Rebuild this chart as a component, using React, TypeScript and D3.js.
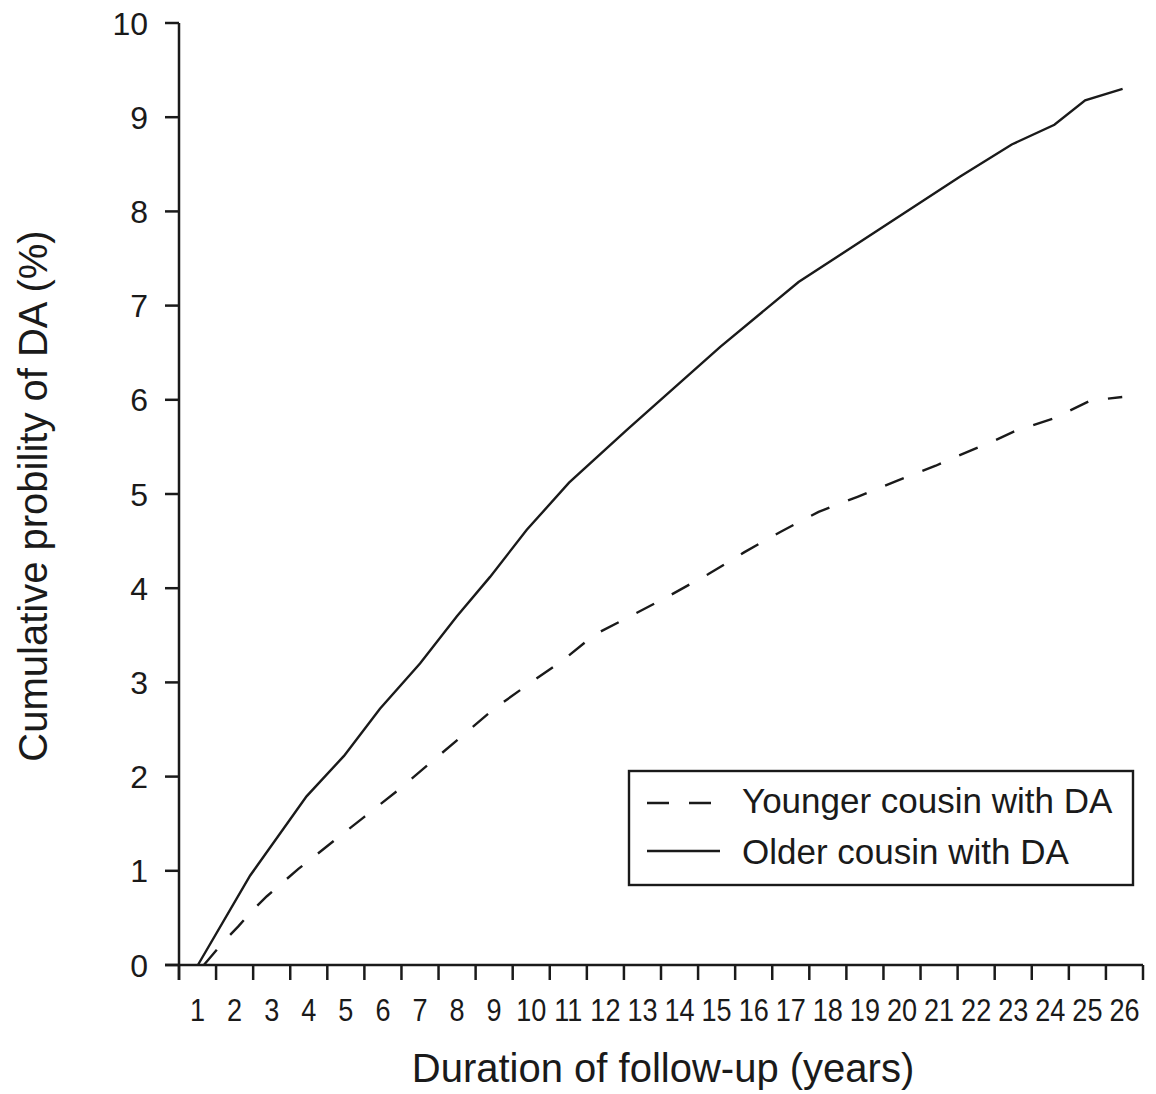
import React from "react";
import * as d3 from "d3";

const xTickLabels = d3.range(1, 27);
const yTickValues = d3.range(0, 11);

const olderYears = [1.01, 2.42, 3.94, 4.95, 5.92, 7.0, 7.99, 8.89, 9.88, 11.02, 12.58, 15.09, 17.21, 21.57, 22.96, 24.11, 24.94, 25.95];
const olderVals = [0, 0.95, 1.79, 2.22, 2.72, 3.2, 3.7, 4.12, 4.62, 5.12, 5.68, 6.56, 7.25, 8.37, 8.71, 8.92, 9.18, 9.3];

const youngerYears = [1.17, 1.71, 2.1, 2.48, 2.87, 3.72, 4.62, 5.49, 6.39, 9.0, 9.92, 10.87, 11.72, 12.76, 13.77, 14.78, 15.74, 16.73, 17.75, 18.8, 19.86, 20.91, 21.48, 22.51, 23.0, 24.08, 25.07, 25.94];
const youngerVals = [0, 0.25, 0.41, 0.58, 0.73, 1.02, 1.3, 1.57, 1.85, 2.72, 2.98, 3.24, 3.51, 3.72, 3.93, 4.15, 4.38, 4.6, 4.81, 4.97, 5.14, 5.3, 5.4, 5.57, 5.66, 5.8, 5.99, 6.03];

const legendLabels = ["Younger cousin with DA", "Older cousin with DA"];
const xTitle = "Duration of follow-up (years)";
const yTitle = "Cumulative probility of DA (%)";

const FONT = "'Liberation Sans', Arial, Helvetica, sans-serif";

export default function App() {
  const W = 1156, H = 1094;
  const x = d3.scaleLinear().domain([0.5, 26.5]).range([179, 1143]);
  const y = d3.scaleLinear().domain([0, 10]).range([965, 23]);
  const line = d3.line<[number, number]>().x(d => x(d[0])).y(d => y(d[1]));
  const older = olderYears.map((v, i) => [v, olderVals[i]] as [number, number]);
  const younger = youngerYears.map((v, i) => [v, youngerVals[i]] as [number, number]);
  const boundaries = d3.range(0, 27).map(k => k + 0.5);
  const axisW = 2.5;
  const ink = "#1a1a1a";
  return (
    <svg width={W} height={H} style={{ position: "absolute", left: 0, top: 0, background: "#fff" }} fontFamily={FONT}>
      <rect width={W} height={H} fill="#fff" />
      {/* axes */}
      <line x1={x(0.5)} x2={x(0.5)} y1={y(10)} y2={y(0) + 15} stroke={ink} strokeWidth={axisW} />
      <line x1={x(0.5) - 14} x2={x(26.5)} y1={y(0)} y2={y(0)} stroke={ink} strokeWidth={axisW} />
      {boundaries.map(b => (
        <line key={b} x1={x(b)} x2={x(b)} y1={y(0)} y2={y(0) + 15} stroke={ink} strokeWidth={axisW} />
      ))}
      {yTickValues.map(v => (
        <line key={v} x1={x(0.5) - 14} x2={x(0.5)} y1={y(v)} y2={y(v)} stroke={ink} strokeWidth={axisW} />
      ))}
      {yTickValues.map(v => (
        <text key={v} x={148} y={y(v)} dy="0.36em" textAnchor="end" fontSize={32} fill={ink}>{v}</text>
      ))}
      {xTickLabels.map(v => (
        <text key={v} transform={`translate(${x(v)},${1021}) scale(0.86,1)`} textAnchor="middle" fontSize={31.5} fill={ink}>{v}</text>
      ))}
      {/* titles */}
      <text x={663} y={1082} textAnchor="middle" fontSize={40} fill={ink}>{xTitle}</text>
      <text transform={`translate(47,496) rotate(-90)`} textAnchor="middle" fontSize={40} fill={ink}>{yTitle}</text>
      {/* curves */}
      <path d={line(older) || ""} fill="none" stroke={ink} strokeWidth={2.4} />
      <path d={line(younger) || ""} fill="none" stroke={ink} strokeWidth={2.4} strokeDasharray="20,20" />
      {/* legend */}
      <rect x={629} y={771} width={504} height={114} fill="#fff" stroke={ink} strokeWidth={2.4} />
      <line x1={647} x2={711} y1={803} y2={803} stroke={ink} strokeWidth={2.4} strokeDasharray="22,20" />
      <line x1={647} x2={720} y1={851} y2={851} stroke={ink} strokeWidth={2.4} />
      <text x={742} y={813} fontSize={35} fill={ink}>{legendLabels[0]}</text>
      <text x={742} y={864} fontSize={35} fill={ink}>{legendLabels[1]}</text>
    </svg>
  );
}
